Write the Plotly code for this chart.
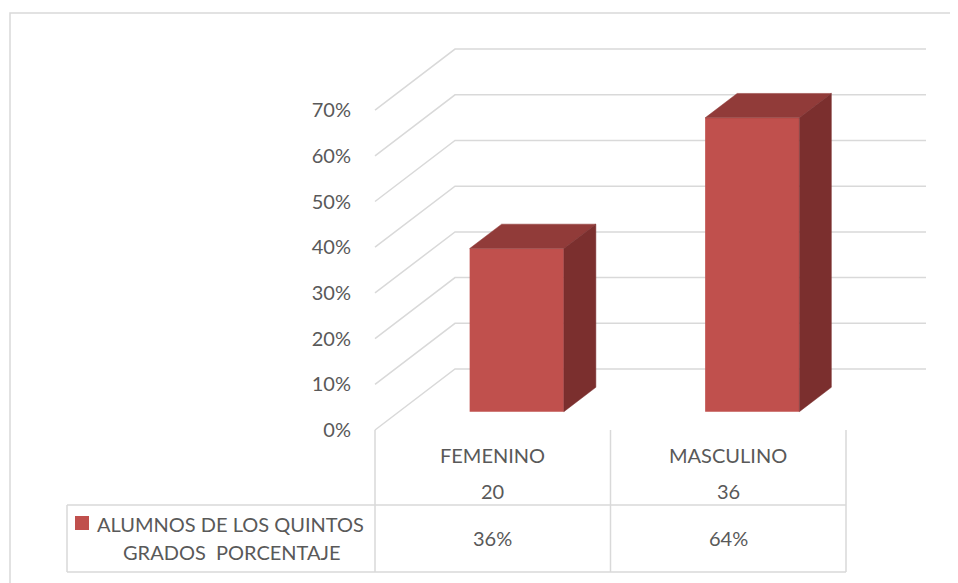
import plotly.graph_objects as go

# ---------------- data ----------------
categories = ["FEMENINO", "MASCULINO"]
counts = [20, 36]
percent = [35.7, 64.3]
pct_labels = ["36%", "64%"]
y_ticks = [0, 10, 20, 30, 40, 50, 60, 70]
series_name = "ALUMNOS DE LOS QUINTOS GRADOS  PORCENTAJE"
legend_lines = ["ALUMNOS DE LOS QUINTOS", "GRADOS  PORCENTAJE"]

# ---------------- geometry / style ----------------
OFF = 8               # page body margin in the browser
W, H = 958 - OFF, 583 - OFF
X_LEFT = 375 - OFF    # px where the front plane starts (category boundary)
CAT_PX = 235.5        # px per category
Y_ZERO = 430 - OFF    # px of 0%
PX_PER_PCT = 4.57     # px per 1%
DEPTH_PX_X = 80
DEPTH_PX_Y = 61
F1, F2 = 0.3, 0.7     # bar front/back depth fractions
BAR_W = 0.4

FRONT = "#C0504D"
TOP = "#913B39"
SIDE = "#7B2F2E"
GRID = "#D9D9D9"
TXT = "#595959"
FONT = "Lato"
FS = 20

x_range = [-0.5 - X_LEFT / CAT_PX, -0.5 + (W - X_LEFT) / CAT_PX]
y_range = [-(H - Y_ZERO) / PX_PER_PCT, Y_ZERO / PX_PER_PCT]
DX = DEPTH_PX_X / CAT_PX
DY = DEPTH_PX_Y / PX_PER_PCT
n = len(categories)
x_lo, x_hi = -0.5, n - 0.5


def ppx(p):  # reference pixel -> paper fraction
    return (p - OFF) / W


def ppy(p):
    return 1 - (p - OFF) / H


fig = go.Figure()

# front faces (real bars)
xpos = list(range(n))
fig.add_trace(go.Bar(
    x=[i + F1 * DX for i in xpos], y=percent, base=F1 * DY, width=BAR_W,
    marker=dict(color=FRONT, line=dict(width=0)), name=series_name,
    hoverinfo="skip",
))

# top and side faces
tx, ty, sx, sy = [], [], [], []
ddx, ddy = (F2 - F1) * DX, (F2 - F1) * DY
for i, v in zip(xpos, percent):
    xl = i - BAR_W / 2 + F1 * DX
    xr = i + BAR_W / 2 + F1 * DX
    top = v + F1 * DY
    tx += [xl, xl + ddx, xr + ddx, xr, xl, None]
    ty += [top, top + ddy, top + ddy, top, top, None]
    sx += [xr, xr, xr + ddx, xr + ddx, xr, None]
    sy += [F1 * DY, top, top + ddy, F2 * DY, F1 * DY, None]
fig.add_trace(go.Scatter(x=tx, y=ty, fill="toself", fillcolor=TOP, mode="lines",
                         line=dict(color=TOP, width=0.5), hoverinfo="skip"))
fig.add_trace(go.Scatter(x=sx, y=sy, fill="toself", fillcolor=SIDE, mode="lines",
                         line=dict(color=SIDE, width=0.5), hoverinfo="skip"))

shapes = []
# gridlines: side wall diagonal + back wall
for v in y_ticks:
    shapes.append(dict(
        type="path", xref="x", yref="y", layer="below",
        path=f"M {x_lo},{v} L {x_lo + DX},{v + DY} L {x_hi + DX},{v + DY}",
        line=dict(color=GRID, width=1.5)))

# data table lines
t_top, t_mid, t_bot, leg_left = 430, 505, 572, 67
for k in range(n + 1):
    xb = x_lo + k
    shapes.append(dict(type="line", xref="x", yref="paper", x0=xb, x1=xb,
                       y0=ppy(t_top), y1=ppy(t_bot), line=dict(color=GRID, width=1.5)))
for yy in (t_mid, t_bot):
    shapes.append(dict(type="line", xref="paper", yref="paper", x0=ppx(leg_left),
                       x1=(X_LEFT + n * CAT_PX) / W, y0=ppy(yy), y1=ppy(yy),
                       line=dict(color=GRID, width=1.5)))
shapes.append(dict(type="line", xref="paper", yref="paper", x0=ppx(leg_left), x1=ppx(leg_left),
                   y0=ppy(t_mid), y1=ppy(t_bot), line=dict(color=GRID, width=1.5)))
# legend key
shapes.append(dict(type="rect", xref="paper", yref="paper", x0=ppx(75), x1=ppx(89),
                   y0=ppy(530), y1=ppy(516), fillcolor=FRONT, line=dict(width=0)))
# chart border
shapes.append(dict(type="rect", xref="paper", yref="paper", x0=ppx(10), x1=ppx(975),
                   y0=ppy(600), y1=ppy(13), line=dict(color=GRID, width=1.5)))

ann = []
font = dict(family=FONT, size=FS, color=TXT)
common = dict(showarrow=False, font=font, xanchor="center", yanchor="middle")
for i, (c, cnt, pl) in enumerate(zip(categories, counts, pct_labels)):
    ann.append(dict(x=i, y=ppy(455), xref="x", yref="paper", text=c, **common))
    ann.append(dict(x=i, y=ppy(491), xref="x", yref="paper", text=str(cnt), **common))
    ann.append(dict(x=i, y=ppy(538), xref="x", yref="paper", text=pl, **common))
ann.append(dict(x=ppx(95), y=ppy(524), xref="paper", yref="paper", text=legend_lines[0],
                showarrow=False, font=font, xanchor="left", yanchor="middle"))
ann.append(dict(x=ppx(232), y=ppy(552), xref="paper", yref="paper", text=legend_lines[1],
                **common))

fig.update_layout(
    width=W, height=H, margin=dict(l=0, r=0, t=0, b=0),
    paper_bgcolor="white", plot_bgcolor="white", showlegend=False,
    xaxis=dict(range=x_range, visible=False, fixedrange=True),
    yaxis=dict(range=y_range, anchor="free", position=X_LEFT / W,
               tickvals=y_ticks, ticktext=[f"{v}%" for v in y_ticks],
               ticks="outside", ticklen=20, tickcolor="rgba(0,0,0,0)",
               showgrid=False, zeroline=False, showline=False,
               tickfont=font, fixedrange=True),
    shapes=shapes, annotations=ann,
)

fig.write_html("out.html")
